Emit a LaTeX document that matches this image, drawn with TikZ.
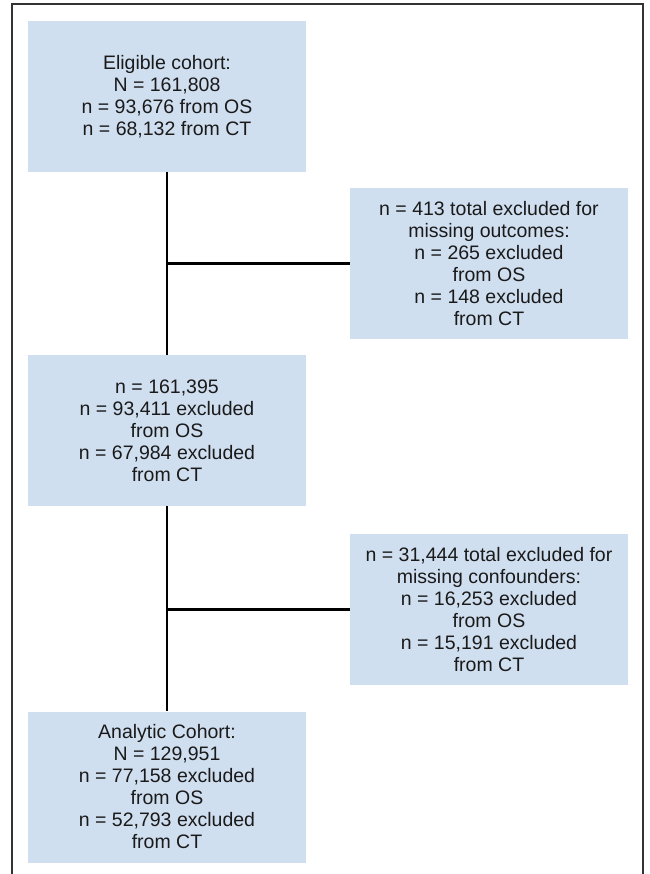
\documentclass[tikz,border=0pt]{standalone}
\usepackage{fontspec}
\setmainfont{Liberation Sans}
\definecolor{boxblue}{HTML}{D0DFF0}
\definecolor{textdark}{HTML}{1A1A1A}
\tikzset{
  stepbox/.style={fill=boxblue, minimum width=278pt, minimum height=151pt,
    inner sep=0pt, align=center, text=textdark,
    font=\fontsize{19.5pt}{22pt}\selectfont},
  link/.style={line width=2.2pt, black}
}
\begin{document}
\begin{tikzpicture}[x=1pt,y=-1pt]
    \useasboundingbox (0,0) rectangle (649,874);
    \draw [line width=1.2pt, black!80] (12,874) -- (12,4) -- (643,4) -- (643,874);
    \node[stepbox] (E) at (167,96.5) {Eligible cohort:\\N = 161,808\\n = 93,676 from OS\\n = 68,132 from CT};
    \node[stepbox] (X1) at (489,263.5) {n = 413 total excluded for\\missing outcomes:\\n = 265 excluded\\from OS\\n = 148 excluded\\from CT};
    \node[stepbox] (M) at (167,430.5) {n = 161,395\\n = 93,411 excluded\\from OS\\n = 67,984 excluded\\from CT};
    \node[stepbox] (X2) at (489,609.5) {n = 31,444 total excluded for\\missing confounders:\\n = 16,253 excluded\\from OS\\n = 15,191 excluded\\from CT};
    \node[stepbox] (A) at (167,787) {Analytic Cohort:\\N = 129,951\\n = 77,158 excluded\\from OS\\n = 52,793 excluded\\from CT};
    \coordinate (J1) at (E.south |- X1.west);
    \coordinate (J2) at (M.south |- X2.west);
    \draw [link] (E) -- (M);
    \draw [link] (M) -- (A);
    \draw [link] (J1) -- (X1);
    \draw [link] (J2) -- (X2);
\end{tikzpicture}
\end{document}
